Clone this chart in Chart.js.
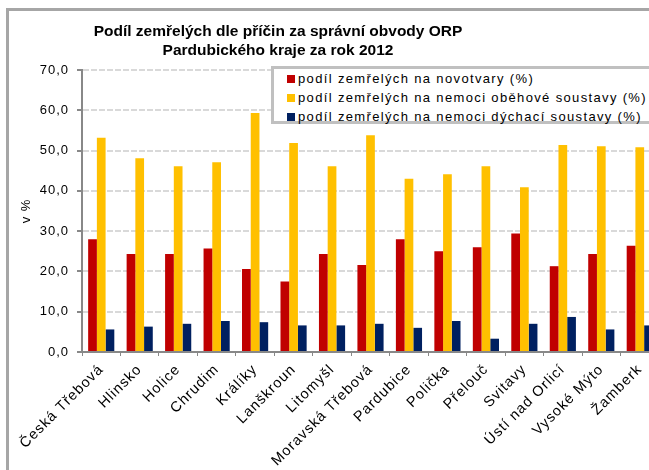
<!DOCTYPE html>
<html>
<head>
<meta charset="utf-8">
<script src="https://cdn.jsdelivr.net/npm/chart.js@4.4.1/dist/chart.umd.min.js"></script>
<style>
  body { margin: 0; background: #fff; }
  #page { position: relative; width: 649px; height: 470px; overflow: hidden; background: #fff; }
  #frame { position: absolute; left: 6px; top: 8px; width: 800px; height: 600px; border: 3px solid #a6a6a6; }
  #wrap { position: absolute; left: 0; top: 0; width: 680px; height: 480px; }
  #title { position: absolute; left: 0; top: 21px; width: 556px; text-align: center;
    font: bold 15.5px "Liberation Sans", Arial, sans-serif; line-height: 19px; color: #000; }
  #legend { position: absolute; left: 271px; top: 66px; width: 380px; height: 52px;
    border: 3px solid #c0c0c0; background: #fff; padding: 0;
    font: 13px "Liberation Sans", Arial, sans-serif; letter-spacing: 1.35px; color: #000; }
  #legend div { height: 19px; line-height: 20px; white-space: nowrap; }
  #legend span { display: inline-block; width: 8px; height: 8px; margin: 0 3px 0 13px; }
</style>
</head>
<body>
<div id="page">
  <div id="frame"></div>
  <div id="wrap"><canvas id="graf"></canvas></div>
  <div id="title">Podíl zemřelých dle příčin za správní obvody ORP<br>Pardubického kraje za rok 2012</div>
  <div id="legend"></div>
</div>
<script>
var categories = ['Česká Třebová', 'Hlinsko', 'Holice', 'Chrudim', 'Králíky', 'Lanškroun', 'Litomyšl',
    'Moravská Třebová', 'Pardubice', 'Polička', 'Přelouč', 'Svitavy', 'Ústí nad Orlicí', 'Vysoké Mýto', 'Žamberk'];
var seriesNames = ['podíl zemřelých na novotvary (%)',
    'podíl zemřelých na nemoci oběhové soustavy (%)',
    'podíl zemřelých na nemoci dýchací soustavy (%)'];
var novotvary = [28.0, 24.3, 24.3, 25.7, 20.6, 17.5, 24.3, 21.6, 28.0, 25.0, 26.0, 29.4, 21.3, 24.3, 26.4];
var obehove = [53.2, 48.1, 46.1, 47.1, 59.3, 51.9, 46.1, 53.8, 43.0, 44.1, 46.1, 40.9, 51.4, 51.1, 50.8];
var dychaci = [5.6, 6.3, 7.0, 7.7, 7.4, 6.6, 6.6, 7.0, 6.0, 7.7, 3.3, 7.0, 8.7, 5.6, 6.6];
var yTicks = [0, 10, 20, 30, 40, 50, 60, 70];

var colors = ['#c00000', '#ffc000', '#002060'];
var font = "'Liberation Sans', Arial, sans-serif";

var spacing = {
    id: 'spacing',
    beforeDraw: function (chart) { chart.ctx.letterSpacing = '1px'; }
};

var data = {
    labels: categories,
    datasets: [
        { label: seriesNames[0], data: novotvary, backgroundColor: colors[0] },
        { label: seriesNames[1], data: obehove, backgroundColor: colors[1] },
        { label: seriesNames[2], data: dychaci, backgroundColor: colors[2] }
    ]
};

var chart = new Chart(document.getElementById('graf').getContext('2d'), {
    type: 'bar',
    data: data,
    plugins: [spacing],
    options: {
        responsive: true,
        maintainAspectRatio: false,
        animation: false,
        layout: { padding: { left: 0, top: 70, right: 21, bottom: 0 } },
        datasets: { bar: { categoryPercentage: 0.68, barPercentage: 1.0 } },
        plugins: { legend: { display: false }, tooltip: { enabled: false } },
        scales: {
            x: {
                afterFit: function (s) { s.height = 128; },
                grid: { drawOnChartArea: false, tickLength: 4, color: '#888', tickColor: '#888' },
                border: { color: '#888', width: 2 },
                ticks: { color: '#000', font: { family: font, size: 14.5 }, minRotation: 45, maxRotation: 45, padding: 5, autoSkip: false }
            },
            y: {
                min: 0, max: 70,
                afterFit: function (s) { s.width = 82; },
                afterBuildTicks: function (s) { s.ticks = yTicks.map(function (v) { return { value: v }; }); },
                grid: { color: '#d9d9d9', lineWidth: 2, tickLength: 5, tickColor: '#888' },
                border: { color: '#888', width: 2, dash: [6, 2] },
                ticks: {
                    color: '#000', font: { family: font, size: 13 }, padding: 8,
                    callback: function (v) { return v.toFixed(1).replace('.', ','); }
                },
                title: { display: true, text: 'v %', color: '#000', font: { family: font, size: 13 }, padding: { top: 19 } }
            }
        }
    }
});

var legend = document.getElementById('legend');
chart.data.datasets.forEach(function (ds) {
    var row = document.createElement('div');
    var box = document.createElement('span');
    box.style.background = ds.backgroundColor;
    row.appendChild(box);
    row.appendChild(document.createTextNode(ds.label));
    legend.appendChild(row);
});
</script>
</body>
</html>
